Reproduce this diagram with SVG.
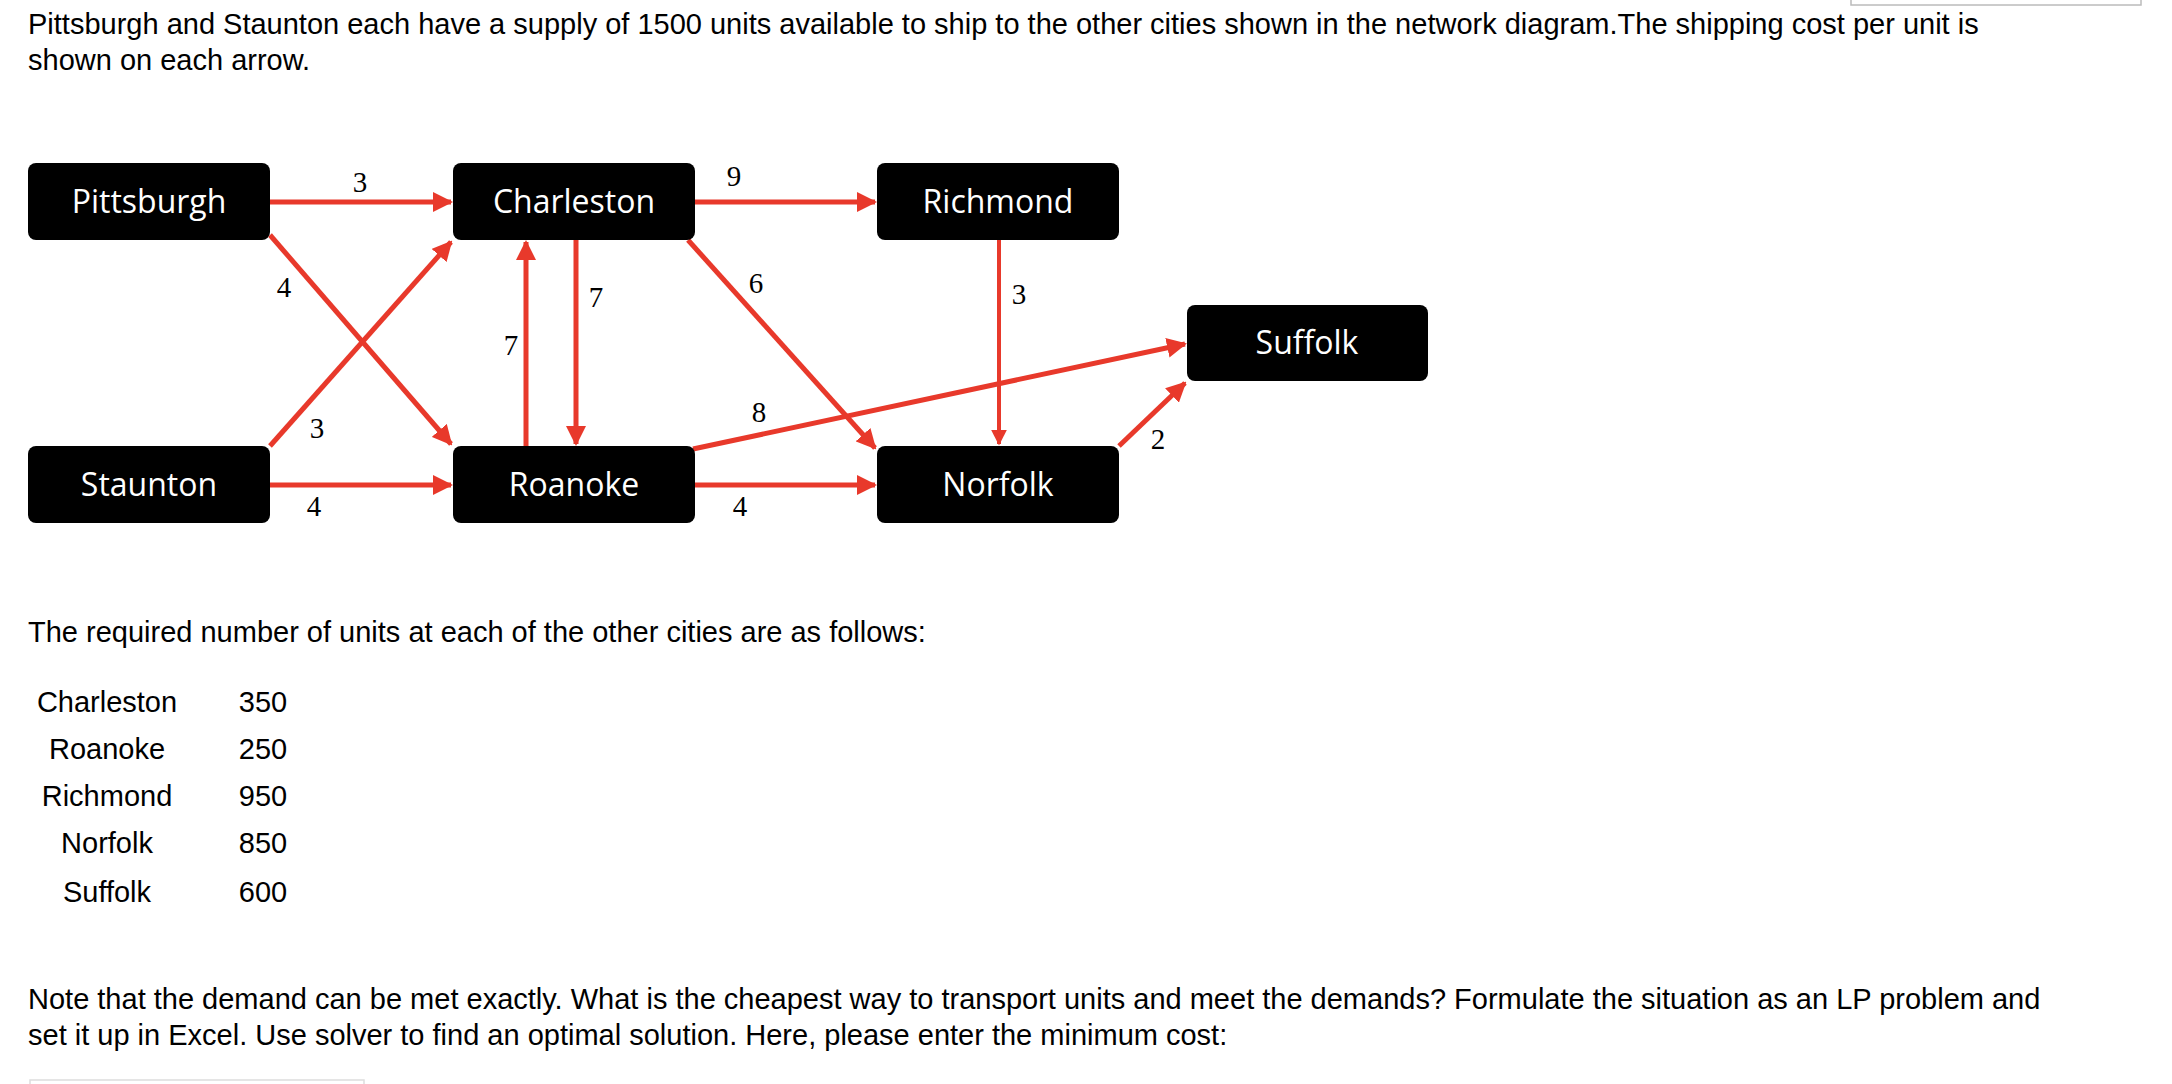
<svg xmlns="http://www.w3.org/2000/svg" width="2172" height="1084" viewBox="0 0 2172 1084">
<style>
.t{font-family:"Liberation Sans",Arial,sans-serif;font-size:29px;fill:#000}
.n rect{fill:#000}
.n text{font-family:"Open Sans","Noto Sans",sans-serif;font-size:32px;fill:#fff;text-anchor:middle}
.e line{stroke:#e8392b;stroke-width:5;marker-end:url(#a)}
.l{font-family:"Liberation Serif","Times New Roman",serif;font-size:29px;fill:#000;text-anchor:middle}
.c{text-anchor:middle}
</style>
<defs><marker id="a" viewBox="0 0 10 10" refX="9" refY="5" markerWidth="4" markerHeight="4" orient="auto" markerUnits="strokeWidth"><path d="M0,0L10,5L0,10z" fill="#e8392b"/></marker></defs>
<rect width="2172" height="1084" fill="#fff"/>
<rect x="1851" y="-4" width="290" height="9" fill="none" stroke="#bbb" stroke-width="1.5"/>
<rect x="30" y="1080" width="334" height="10" fill="none" stroke="#ddd" stroke-width="1.5"/>
<text class="t" x="28" y="34">Pittsburgh and Staunton each have a supply of 1500 units available to ship to the other cities shown in the network diagram.The shipping cost per unit is</text>
<text class="t" x="28" y="70">shown on each arrow.</text>
<g class="e" id="connectors">
<line x1="270" y1="202" x2="451" y2="202"/>
<line x1="695" y1="202" x2="875" y2="202"/>
<line x1="270" y1="235" x2="451" y2="444"/>
<line x1="270" y1="446" x2="451" y2="242"/>
<line x1="526" y1="446" x2="526" y2="242"/>
<line x1="576" y1="240" x2="576" y2="444"/>
<line x1="688" y1="240" x2="875" y2="448"/>
<line x1="999" y1="240" x2="999" y2="444" style="stroke-width:4"/>
<line x1="693" y1="449" x2="1185" y2="344"/>
<line x1="1119" y1="446" x2="1185" y2="383"/>
<line x1="270" y1="485" x2="451" y2="485"/>
<line x1="695" y1="485" x2="875" y2="485"/>
</g>
<g id="labels">
<text class="l" x="360" y="192">3</text>
<text class="l" x="734" y="186">9</text>
<text class="l" x="284" y="297">4</text>
<text class="l" x="596" y="307">7</text>
<text class="l" x="511" y="355">7</text>
<text class="l" x="756" y="293">6</text>
<text class="l" x="1019" y="304">3</text>
<text class="l" x="759" y="422">8</text>
<text class="l" x="317" y="438">3</text>
<text class="l" x="1158" y="449">2</text>
<text class="l" x="314" y="516">4</text>
<text class="l" x="740" y="516">4</text>
</g>
<g class="n" id="Pittsburgh"><rect x="28" y="163" width="242" height="77" rx="8"/><text x="149" y="213">Pittsburgh</text></g>
<g class="n" id="Charleston"><rect x="453" y="163" width="242" height="77" rx="8"/><text x="574" y="213">Charleston</text></g>
<g class="n" id="Richmond"><rect x="877" y="163" width="242" height="77" rx="8"/><text x="998" y="213">Richmond</text></g>
<g class="n" id="Suffolk"><rect x="1187" y="305" width="241" height="76" rx="8"/><text x="1307" y="354">Suffolk</text></g>
<g class="n" id="Staunton"><rect x="28" y="446" width="242" height="77" rx="8"/><text x="149" y="496">Staunton</text></g>
<g class="n" id="Roanoke"><rect x="453" y="446" width="242" height="77" rx="8"/><text x="574" y="496">Roanoke</text></g>
<g class="n" id="Norfolk"><rect x="877" y="446" width="242" height="77" rx="8"/><text x="998" y="496">Norfolk</text></g>
<text class="t" x="28" y="642">The required number of units at each of the other cities are as follows:</text>
<g>
<text class="t c" x="107" y="712">Charleston</text><text class="t c" x="263" y="712">350</text>
<text class="t c" x="107" y="759">Roanoke</text><text class="t c" x="263" y="759">250</text>
<text class="t c" x="107" y="806">Richmond</text><text class="t c" x="263" y="806">950</text>
<text class="t c" x="107" y="853">Norfolk</text><text class="t c" x="263" y="853">850</text>
<text class="t c" x="107" y="902">Suffolk</text><text class="t c" x="263" y="902">600</text>
</g>
<text class="t" x="28" y="1009">Note that the demand can be met exactly. What is the cheapest way to transport units and meet the demands? Formulate the situation as an LP problem and</text>
<text class="t" x="28" y="1045">set it up in Excel. Use solver to find an optimal solution. Here, please enter the minimum cost:</text>
</svg>
